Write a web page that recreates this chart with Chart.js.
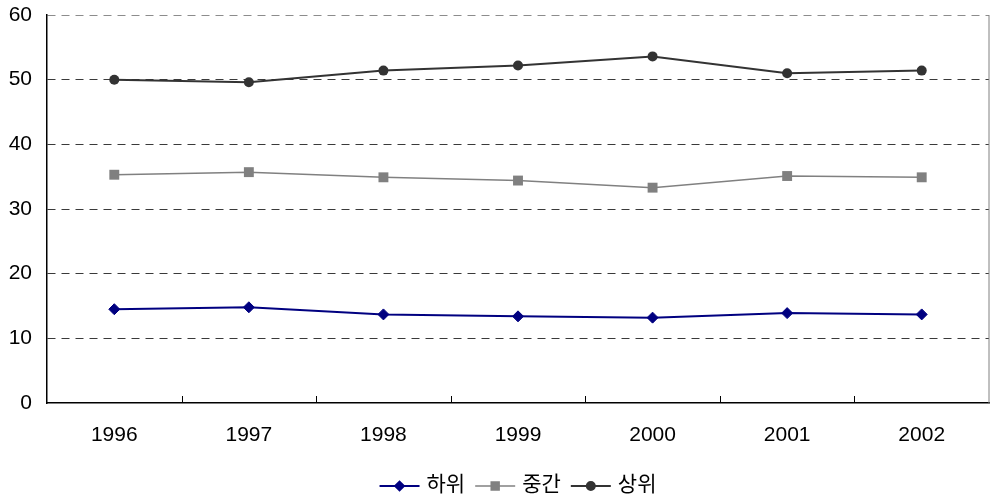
<!DOCTYPE html>
<html>
<head>
<meta charset="utf-8">
<script src="https://cdn.jsdelivr.net/npm/chart.js@4"></script>
<style>
  html, body { margin: 0; padding: 0; background: #fff; }
  #wrap { width: 996px; height: 499px; position: relative; }
</style>
</head>
<body>
<div id="wrap"><canvas id="chart"></canvas></div>
<script>
const years = ["1996", "1997", "1998", "1999", "2000", "2001", "2002"];
const lowData = [14.5, 14.8, 13.7, 13.4, 13.2, 13.9, 13.7];
const midData = [35.3, 35.7, 34.9, 34.4, 33.3, 35.1, 34.9];
const highData = [50.0, 49.6, 51.4, 52.2, 53.6, 51.0, 51.4];
const yTicks = [0, 10, 20, 30, 40, 50, 60];

const tickFont = { family: '"Liberation Sans", Arial, sans-serif', size: 21 };

// inner tick marks between categories + gray right border
const framePlugin = {
  id: "frame",
  afterDraw(chart) {
    const { ctx, chartArea, scales } = chart;
    const x = scales.x;
    ctx.save();
    ctx.strokeStyle = "#000";
    ctx.lineWidth = 1;
    for (let i = 0; i < years.length - 1; i++) {
      const px = Math.round((x.getPixelForValue(i) + x.getPixelForValue(i + 1)) / 2) + 0.5;
      ctx.beginPath();
      ctx.moveTo(px, chartArea.bottom);
      ctx.lineTo(px, chartArea.bottom - 7);
      ctx.stroke();
    }
    ctx.strokeStyle = "#808080";
    ctx.beginPath();
    ctx.moveTo(chartArea.right, chartArea.top);
    ctx.lineTo(chartArea.right, chartArea.bottom);
    ctx.stroke();
    ctx.restore();
  },
};

// legend: short line with marker, then label
const legendPlugin = {
  id: "lineLegend",
  afterDraw(chart) {
    const { ctx, chartArea } = chart;
    ctx.save();
    ctx.font = '21px "Noto Sans CJK KR", sans-serif';
    const lineW = 40, gap = 7, itemGap = 10;
    const items = chart.data.datasets.map((ds) => ({ ds, w: ctx.measureText(ds.label).width }));
    const total = items.reduce((s, it) => s + lineW + gap + it.w, 0) + itemGap * (items.length - 1);
    let x = (chartArea.left + chartArea.right) / 2 - total / 2;
    const y = 486;
    items.forEach(({ ds, w }) => {
      ctx.strokeStyle = ds.borderColor;
      ctx.lineWidth = ds.borderWidth;
      ctx.beginPath();
      ctx.moveTo(x, y);
      ctx.lineTo(x + lineW, y);
      ctx.stroke();
      ctx.fillStyle = ds.pointBackgroundColor;
      ctx.strokeStyle = ds.pointBackgroundColor;
      Chart.helpers.drawPoint(ctx, {
        pointStyle: ds.pointStyle,
        radius: ds.pointRadius * 0.8,
        rotation: 0,
        borderWidth: 1,
      }, x + lineW / 2, y);
      ctx.fillStyle = "#000";
      ctx.textBaseline = "middle";
      ctx.textAlign = "left";
      ctx.fillText(ds.label, x + lineW + gap, y - 3);
      x += lineW + gap + w + itemGap;
    });
    ctx.restore();
  },
};

new Chart(document.getElementById("chart"), {
  type: "line",
  data: {
    labels: years,
    datasets: [
      {
        label: "하위",
        data: lowData,
        borderColor: "#000080",
        backgroundColor: "#000080",
        pointBackgroundColor: "#000080",
        pointBorderColor: "#000080",
        borderWidth: 2,
        pointStyle: "rectRot",
        pointRadius: 5.5,
        pointBorderWidth: 1,
        tension: 0,
      },
      {
        label: "중간",
        data: midData,
        borderColor: "#808080",
        backgroundColor: "#808080",
        pointBackgroundColor: "#808080",
        pointBorderColor: "#808080",
        borderWidth: 1.5,
        pointStyle: "rect",
        pointRadius: 7,
        pointBorderWidth: 0,
        tension: 0,
      },
      {
        label: "상위",
        data: highData,
        borderColor: "#333333",
        backgroundColor: "#333333",
        pointBackgroundColor: "#333333",
        pointBorderColor: "#333333",
        borderWidth: 2,
        pointStyle: "circle",
        pointRadius: 5,
        pointBorderWidth: 0,
        tension: 0,
      },
    ],
  },
  options: {
    responsive: true,
    maintainAspectRatio: false,
    animation: false,
    layout: {
      padding: { left: 0, right: 3, top: 15, bottom: 36 },
    },
    plugins: {
      legend: { display: false },
      tooltip: { enabled: false },
    },
    scales: {
      x: {
        offset: true,
        grid: { display: false, drawTicks: false },
        border: { display: true, color: "#000", width: 1.5 },
        ticks: { color: "#000", font: tickFont, padding: 20, maxRotation: 0 },
        afterFit: (scale) => { scale.height = 60; scale.paddingLeft = 0; scale.paddingRight = 0; },
      },
      y: {
        min: 0,
        max: 60,
        afterBuildTicks: (scale) => { scale.ticks = yTicks.map((v) => ({ value: v })); },
        grid: {
          drawTicks: false,
          color: (c) => (c.tick && c.tick.value === 60 ? "#8c8c8c" : c.tick && c.tick.value === 0 ? "rgba(0,0,0,0)" : "#3a3a3a"),
          lineWidth: 1,
        },
        border: { display: true, color: "#000", width: 1.5, dash: [8, 6] },
        ticks: { color: "#000", font: tickFont, padding: 15 },
        afterFit: (scale) => { scale.width = 47; scale.paddingTop = 0; scale.paddingBottom = 0; },
      },
    },
  },
  plugins: [framePlugin, legendPlugin],
});
</script>
</body>
</html>
